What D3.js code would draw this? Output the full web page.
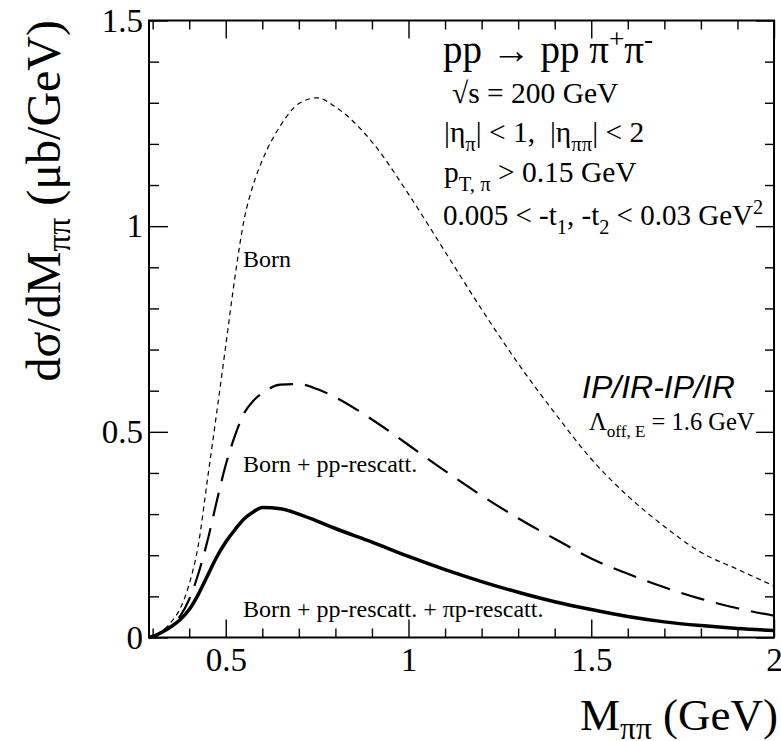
<!DOCTYPE html>
<html>
<head>
<meta charset="utf-8">
<script src="https://cdn.jsdelivr.net/npm/d3@7"></script>
<style>
  body { margin: 0; background: #fff; }
  svg { display: block; }
  text { font-family: "Liberation Serif", "Times New Roman", serif; fill: #000; }
</style>
</head>
<body>
<svg id="chart" width="781" height="741"></svg>
<script>
// ---- data ----
const mass = [0.29, 0.31, 0.33, 0.35, 0.375, 0.40, 0.425, 0.45, 0.475, 0.50, 0.525, 0.55, 0.575, 0.60,
              0.65, 0.70, 0.75, 0.80, 0.90, 1.00, 1.10, 1.20, 1.30, 1.40, 1.50, 1.60, 1.70, 1.80, 1.90, 2.00];
const born = [0, 0.006, 0.018, 0.037, 0.07, 0.13, 0.225, 0.385, 0.545, 0.71, 0.875, 1.015, 1.10, 1.16,
              1.245, 1.298, 1.312, 1.29, 1.205, 1.078, 0.938, 0.798, 0.666, 0.546, 0.434, 0.344, 0.27, 0.207, 0.166, 0.125];
const bornPP = [0, 0.006, 0.017, 0.03, 0.052, 0.093, 0.155, 0.235, 0.33, 0.42, 0.49, 0.545, 0.575, 0.594,
              0.615, 0.616, 0.604, 0.584, 0.53, 0.468, 0.405, 0.345, 0.29, 0.24, 0.192, 0.155, 0.122, 0.094, 0.071, 0.053];
const bornPPpiP = [0, 0.006, 0.015, 0.026, 0.043, 0.068, 0.105, 0.15, 0.195, 0.232, 0.262, 0.288, 0.305, 0.316,
              0.313, 0.300, 0.283, 0.265, 0.232, 0.197, 0.165, 0.136, 0.11, 0.087, 0.068, 0.051, 0.038, 0.029, 0.022, 0.017];
const xMajorTicks = [0.5, 1.0, 1.5, 2.0];
const xTickLabels = ["0.5", "1", "1.5", "2"];
const xMinorTicks = [0.3,0.4,0.6,0.7,0.8,0.9,1.1,1.2,1.3,1.4,1.6,1.7,1.8,1.9];
const yMajorTicks = [0, 0.5, 1.0, 1.5];
const yTickLabels = ["0", "0.5", "1", "1.5"];
const yMinorTicks = [0.1,0.2,0.3,0.4,0.6,0.7,0.8,0.9,1.1,1.2,1.3,1.4];

// ---- layout ----
const SERIF = '"Liberation Serif", "Times New Roman", serif';
const L = 149, R = 774, T = 20.5, B = 637.5;
const svg = d3.select("#chart");
svg.append("rect").attr("width", 781).attr("height", 741).attr("fill", "#fff");

const x = d3.scaleLinear().domain([0.29, 2.0]).range([L, R]);
const y = d3.scaleLinear().domain([0, 1.5]).range([B, T]);

function styleAxis(g) {
  g.attr("font-family", null);
  g.select(".domain").remove();
  g.selectAll(".tick line").attr("stroke", "#000").attr("stroke-width", 1.4);
  g.selectAll(".tick text").style("font-family", SERIF).style("font-size", "33px").attr("fill", "#000");
}

// bottom axis
svg.append("g").attr("transform", `translate(0,${B})`)
  .call(d3.axisBottom(x).tickValues(xMajorTicks).tickSize(-18).tickPadding(10)
        .tickFormat((d, i) => xTickLabels[i])).call(styleAxis);
svg.append("g").attr("transform", `translate(0,${B})`)
  .call(d3.axisBottom(x).tickValues(xMinorTicks).tickSize(-9).tickFormat("")).call(styleAxis);
// top axis
svg.append("g").attr("transform", `translate(0,${T})`)
  .call(d3.axisTop(x).tickValues(xMajorTicks).tickSize(-18).tickFormat("")).call(styleAxis);
svg.append("g").attr("transform", `translate(0,${T})`)
  .call(d3.axisTop(x).tickValues(xMinorTicks).tickSize(-9).tickFormat("")).call(styleAxis);
// left axis
svg.append("g").attr("transform", `translate(${L},0)`)
  .call(d3.axisLeft(y).tickValues(yMajorTicks).tickSize(-19).tickPadding(6)
        .tickFormat((d, i) => yTickLabels[i])).call(styleAxis);
svg.append("g").attr("transform", `translate(${L},0)`)
  .call(d3.axisLeft(y).tickValues(yMinorTicks).tickSize(-10).tickFormat("")).call(styleAxis);
// right axis
svg.append("g").attr("transform", `translate(${R},0)`)
  .call(d3.axisRight(y).tickValues(yMajorTicks).tickSize(-18).tickFormat("")).call(styleAxis);
svg.append("g").attr("transform", `translate(${R},0)`)
  .call(d3.axisRight(y).tickValues(yMinorTicks).tickSize(-9).tickFormat("")).call(styleAxis);

// frame
svg.append("rect").attr("x", L).attr("y", T).attr("width", R - L).attr("height", B - T)
  .attr("fill", "none").attr("stroke", "#000").attr("stroke-width", 2);

// ---- curves ----
const line = d3.line().x(d => x(d[0])).y(d => y(d[1])).curve(d3.curveMonotoneX);
const series = [
  { vals: born, width: 1.2, dash: "5,4" },
  { vals: bornPP, width: 2.2, dash: "24,12" },
  { vals: bornPPpiP, width: 3.5, dash: null }
];
series.forEach(s => {
  svg.append("path").datum(mass.map((m, i) => [m, s.vals[i]]))
    .attr("d", line).attr("fill", "none").attr("stroke", "#000")
    .attr("stroke-width", s.width).attr("stroke-dasharray", s.dash)
    .attr("stroke-linejoin", "round");
});

// ---- rich text helper ----
function rich(parent, px, py, size, parts, opts = {}) {
  const t = parent.append("text").attr("x", px).attr("y", py)
    .style("font-size", size + "px")
    .style("font-family", opts.family || SERIF)
    .style("white-space", "pre").attr("xml:space", "preserve");
  if (opts.anchor) t.attr("text-anchor", opts.anchor);
  if (opts.transform) t.attr("transform", opts.transform);
  if (opts.italic) t.style("font-style", "italic");
  const subShift = opts.sub != null ? opts.sub : 0.3;
  let cur = 0;
  parts.forEach(([txt, mode]) => {
    let target = 0, fs = size;
    if (mode === "sub") { target = subShift * size; fs = 0.7 * size; }
    if (mode === "sup") { target = -0.38 * size; fs = 0.7 * size; }
    t.append("tspan").attr("dy", target - cur).style("font-size", fs + "px").text(txt);
    cur = target;
  });
  return t;
}

// axis titles
rich(svg, 778, 730, 45, [["M"], ["ππ", "sub"], [" (GeV)"]], { anchor: "end", sub: 0.2 });
rich(svg, 0, 0, 48, [["dσ/dM"], ["ππ", "sub"], [" (μb/GeV)"]],
     { anchor: "end", transform: "translate(60,20) rotate(-90)", sub: 0.2 });

// annotation block
rich(svg, 443, 63, 39, [["pp → pp π"], ["+", "sup"], ["π"], ["-", "sup"]]);
rich(svg, 452, 103, 29.5, [["√s = 200 GeV"]]);
rich(svg, 444, 142, 29.5, [["|η"], ["π", "sub"], ["| < 1,\u00a0\u00a0|η"], ["ππ", "sub"], ["| < 2"]]);
rich(svg, 444, 182, 29.5, [["p"], ["T, π", "sub"], [" > 0.15 GeV"]]);
rich(svg, 443, 225, 29, [["0.005 < -t"], ["1", "sub"], [", -t"], ["2", "sub"], [" < 0.03 GeV"], ["2", "sup"]]);

rich(svg, 582, 398, 32, [["IP/IR-IP/IR"]], { family: '"Liberation Sans", Arial, sans-serif', italic: true });
rich(svg, 589, 430, 24.5, [["Λ"], ["off, E", "sub"], [" = 1.6 GeV"]]);

// curve labels
rich(svg, 243, 267, 24, [["Born"]]);
rich(svg, 243, 472, 24, [["Born + pp-rescatt."]]);
rich(svg, 243, 617, 24, [["Born + pp-rescatt. + πp-rescatt."]]);
</script>
</body>
</html>
